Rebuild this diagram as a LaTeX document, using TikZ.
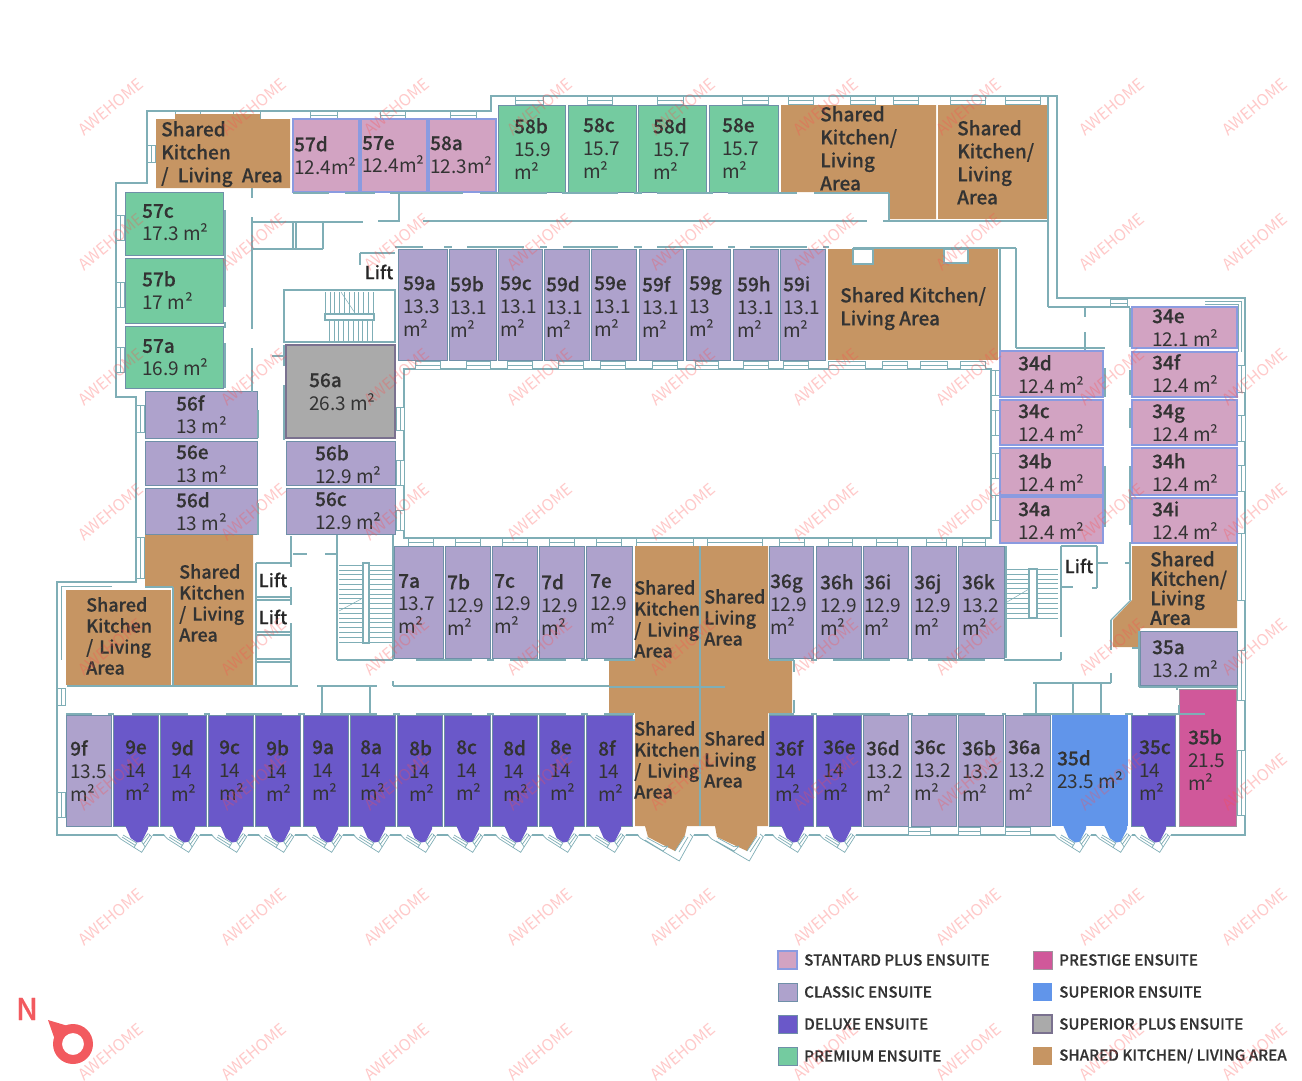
\documentclass[tikz,border=0pt]{standalone}
\usepackage{fontspec}
\setmainfont[BoldFont={Noto Sans CJK SC Medium},BoldFeatures={FakeBold=.35}]{Noto Sans CJK SC}
\usetikzlibrary{calc}
\definecolor{wallcol}{HTML}{7FAEB6}
\definecolor{edgecol}{HTML}{6F8FA8}
\definecolor{classiccol}{HTML}{AEA2CC}
\definecolor{deluxecol}{HTML}{6A58C9}
\definecolor{premiumcol}{HTML}{74CBA0}
\definecolor{sharedcol}{HTML}{C69563}
\definecolor{prestigecol}{HTML}{D0589A}
\definecolor{superiorcol}{HTML}{6195EA}
\definecolor{greycol}{HTML}{AAAAAA}
\definecolor{pinkcol}{HTML}{D2A3C2}
\definecolor{bluelinecol}{HTML}{8A9BE0}
\definecolor{txtcol}{HTML}{333333}
\definecolor{nred}{HTML}{F25A5F}
\tikzset{
  wall/.style={draw=wallcol, line width=1.1pt},
  thinwall/.style={draw=wallcol, line width=.7pt},
  classic/.style={fill=classiccol, draw=edgecol, line width=.5pt},
  deluxe/.style={fill=deluxecol, draw=edgecol, line width=.5pt},
  premium/.style={fill=premiumcol, draw=edgecol, line width=.5pt},
  shared/.style={fill=sharedcol},
  prestige/.style={fill=prestigecol, draw=premiumcol!50!prestigecol, line width=1pt},
  superior/.style={fill=superiorcol},
  superplus/.style={fill=greycol, draw=classiccol!70!black, line width=1.2pt},
  standplus/.style={fill=pinkcol, draw=bluelinecol, line width=1.4pt},
  lbl/.style={anchor=north west, inner sep=0pt, align=left, text=txtcol, font=\fontsize{19}{23}\selectfont},
  kitlbl/.style={lbl, font=\fontsize{18}{21}\selectfont\bfseries},
  biglbl/.style={lbl, font=\fontsize{19}{23}\selectfont\bfseries},
  liftlbl/.style={anchor=center, inner sep=0pt, text=black!85, font=\fontsize{18}{20}\selectfont\bfseries},
  keylbl/.style={anchor=west, inner sep=0pt, text=txtcol, font=\fontsize{15.2}{18}\selectfont\bfseries},
  wmark/.style={rotate=40, inner sep=0pt, text=red!70!white, opacity=.3, font=\fontsize{16}{18}\selectfont}
}
\newcommand{\bayroom}[2]{% x of the room, style of its fill
  \fill[white] (#1+4,834) -- (#1+7.7,839) -- (#1+28.7,852.3) -- (#1+38.7,836.7) -- (#1+40,834) -- cycle;
  \fill[#2, draw=none] (#1+12,825) -- (#1+17.7,838) -- (#1+24,842.5) -- (#1+28.7,841.7) -- (#1+35,829) -- (#1+35,825) -- cycle;
  \draw[thinwall] (#1+4,835.5) -- (#1+7.7,839) -- (#1+28.7,852.3) -- (#1+38.7,836.7) -- (#1+36,834);
  \draw[thinwall] (#1+10,835) -- (#1+23.7,843) -- (#1+21,847.7) (#1+9,837) -- (#1+22.4,845.4);
  \draw[thinwall] (#1+28.7,841.7) -- (#1+32,846.7) (#1+28.7,841.7) -- (#1+35.3,833.3) (#1+30.4,844.2) -- (#1+37,835);
}
\newcommand{\winh}[3]{\draw[thinwall, fill=white] (#1,#3) rectangle (#2,#3+8) (#1,#3+4) -- (#2,#3+4);}
\newcommand{\winv}[3]{\draw[thinwall, fill=white] (#3,#1) rectangle (#3+8,#2) (#3+4,#1) -- (#3+4,#2);}
\begin{document}
\begin{tikzpicture}[x=1pt,y=-1pt]
  \useasboundingbox (0,0) rectangle (1302,1080);

  % outer wall and courtyard
  \draw[wall] (147,111) -- (491,111) -- (491,96) -- (1057,96) -- (1057,298) -- (1245,298) -- (1245,835) -- (57,835) -- (57,582) -- (136,582) -- (136,397) -- (116,397) -- (116,183) -- (147,183) -- cycle;
  \draw[wall] (404,369) rectangle (991,538);

  % windows
  \foreach \xa/\xb in {175/200,233/260,310/337,380/405,450/476}{\winh{\xa}{\xb}{111}}
  \foreach \xa/\xb in {515/543,587/612,657/683,742/768,788/813,850/875,893/918,950/985,1005/1040}{\winh{\xa}{\xb}{96}}
  \foreach \xa/\xb in {415/440,466/490,507/532,558/583,600/625,652/677,695/718,743/768,783/808,828/865,882/907,920/947,960/985}{\winh{\xa}{\xb}{361}}
  \foreach \xa/\xb in {408/433,455/480,502/527,549/574,596/621,636/693,707/762,779/804,828/852,876/897,926/946,962/985}{\winh{\xa}{\xb}{538}}
  \foreach \xa/\xb in {908/930,958/980,1005/1030}{\winh{\xa}{\xb}{827}}
  \winh{1110}{1127}{299}
  \foreach \ya/\yb in {215/240,282/307,347/372}{\winv{\ya}{\yb}{116}}
  \winv{145}{162}{147}
  \foreach \ya/\yb in {405/432,537/578}{\winv{\ya}{\yb}{136}}
  \foreach \ya/\yb in {688/705,792/817}{\winv{\ya}{\yb}{57}}
  \foreach \ya/\yb in {365/392,415/441,465/491,533/600,650/700,750/815}{\winv{\ya}{\yb}{1237}}
  \foreach \ya/\yb in {370/395,410/435,453/478,495/520}{\winv{\ya}{\yb}{991}}
  \foreach \ya/\yb in {407/430,460/485,510/530}{\winv{\ya}{\yb}{396}}
  \draw[thinwall] (1205,301) -- (1241,301) -- (1241,352) (1205,304) -- (1238,304) -- (1238,352);
  \draw[thinwall] (112,586) -- (61,586) -- (61,660);

  % rooms with three lines of text
  \foreach \nm/\ar/\xa/\xb/\tx in {59a/13.3/398/447/403,59b/13.1/449/496/450,59c/13.1/498/542/500,59d/13.1/544/589/546,59e/13.1/591/636/594,59f/13.1/639/683/642,59g/13/686/730/689,59h/13.1/733/778/737,59i/13.1/780/825/783}{
    \fill[classic] (\xa,249) rectangle (\xb,360);
    \node[lbl] (t\nm) at (\tx,276) {\textbf{\nm}\\\ar\\m²};
  }
  \foreach \nm/\ar/\xa/\xb/\tx in {58b/15.9/498/565/514,58c/15.7/568/636/583,58d/15.7/638/706/653,58e/15.7/709/778/722}{
    \fill[premium] (\xa,105) rectangle (\xb,192);
    \node[lbl] (t\nm) at (\tx,118) {\textbf{\nm}\\\ar\\m²};
  }
  \foreach \nm/\ar/\xa/\xb/\tx in {7a/13.7/394/443/398,7b/12.9/445/490/447,7c/12.9/492/537/494,7d/12.9/539/584/541,7e/12.9/586/632/590,36g/12.9/769/813/770,36h/12.9/816/861/820,36i/12.9/863/908/864,36j/12.9/911/956/914,36k/13.2/958/1004/962}{
    \fill[classic] (\xa,546) rectangle (\xb,658);
    \node[lbl] (t\nm) at (\tx,574) {\textbf{\nm}\\\ar\\m²};
  }
  \foreach \nm/\xa/\xb/\tx in {9e/113/158/125,9d/160/206/171,9c/208/253/219,9b/255/300/266,9a/303/348/312,8a/350/395/360,8b/397/442/409,8c/444/490/456,8d/492/537/503,8e/539/584/550,8f/586/632/598,36f/769/813/775,36e/816/861/823}{
    \fill[deluxe] (\xa,715) rectangle (\xb,826);
    \bayroom{\xa}{deluxe}
    \node[lbl] (t\nm) at (\tx,740) {\textbf{\nm}\\14\\m²};
  }
  \foreach \nm/\ar/\xa/\xb/\tx in {9f/13.5/66/111/70,36d/13.2/863/908/866,36c/13.2/911/956/914,36b/13.2/958/1003/962,36a/13.2/1005/1050/1008}{
    \fill[classic] (\xa,715) rectangle (\xb,826);
    \node[lbl] (t\nm) at (\tx,740) {\textbf{\nm}\\\ar\\m²};
  }
  \fill[deluxe] (1131,715) rectangle (1175,826);
  \bayroom{1131}{deluxe}
  \node[lbl] (t35c) at (1139,740) {\textbf{35c}\\14\\m²};
  \fill[superior] (1052,715) rectangle (1128,826);
  \bayroom{1051}{superior}
  \bayroom{1092}{superior}
  \node[lbl] (t35d) at (1057,750) {\textbf{35d}\\23.5 m²};
  \fill[prestige] (1179,689) rectangle (1236,826);
  \node[lbl] (t35b) at (1188,729) {\textbf{35b}\\21.5\\m²};

  % rooms with two lines of text
  \foreach \nm/\ar/\xa/\ya/\xb/\yb/\tx/\ty in {57d/12.4m²/293/119/359/192/294/136,57e/12.4m²/361/119/427/192/362/136,58a/12.3m²/429/119/496/192/430/136,34d/12.4 m²/1000/351/1103/397/1018/355,34c/12.4 m²/1000/400/1103/445/1018/404,34b/12.4 m²/1000/448/1103/495/1018/453,34a/12.4 m²/1000/497/1103/543/1018/502,34e/12.1 m²/1132/307/1237/348/1152/309,34f/12.4 m²/1132/352/1237/397/1152/354,34g/12.4 m²/1132/400/1237/445/1152/404,34h/12.4 m²/1132/448/1237/495/1152/453,34i/12.4 m²/1132/498/1237/543/1152/501}{
    \fill[standplus] (\xa,\ya) rectangle (\xb,\yb);
    \node[lbl] (t\nm) at (\tx,\ty) {\textbf{\nm}\\\ar};
  }
  \foreach \nm/\ar/\xa/\ya/\xb/\yb/\tx/\ty in {57c/17.3 m²/125/192/223/255/142/204,57b/17 m²/125/258/223/323/142/271,57a/16.9 m²/125/326/223/388/142/339}{
    \fill[premium] (\xa,\ya) rectangle (\xb,\yb);
    \node[lbl] (t\nm) at (\tx,\ty) {\textbf{\nm}\\\ar};
  }
  \foreach \nm/\ar/\xa/\ya/\xb/\yb/\tx/\ty in {56f/13 m²/145/391/257/438/176/395,56e/13 m²/145/441/257/485/176/445,56d/13 m²/145/488/257/534/176/492,56b/12.9 m²/286/441/395/485/315/445,56c/12.9 m²/286/488/395/534/315/492,35a/13.2 m²/1140/631/1237/685/1152/640}{
    \fill[classic] (\xa,\ya) rectangle (\xb,\yb);
    \node[lbl] (t\nm) at (\tx,\ty) {\textbf{\nm}\\\ar};
  }
  \fill[superplus] (286,345) rectangle (395,438);
  \node[lbl] (t56a) at (309,373) {\textbf{56a}\\26.3 m²};

  % shared kitchens
  \fill[shared] (156,119) -- (175,119) -- (175,114) -- (260,114) -- (260,119) -- (290,119) -- (290,188) -- (156,188) -- cycle;
  \fill[shared] (781,105) -- (936,105) -- (936,219) -- (889,219) -- (889,192) -- (781,192) -- cycle;
  \fill[shared] (938,105) rectangle (1049,219);
  \fill[shared] (828,249) rectangle (998,360);
  \draw[wall, fill=white] (853,249) rectangle (873,264) (944,249) rectangle (968,263);
  \fill[shared] (1132,546) -- (1237,546) -- (1237,628) -- (1140,628) -- (1140,647) -- (1113,647) -- (1113,620) -- (1132,600) -- cycle;
  \fill[shared] (145,535) -- (253,535) -- (253,685) -- (174,685) -- (174,587) -- (145,587) -- cycle;
  \fill[shared] (66,590) rectangle (171,685);
  \fill[white] (638,834) -- (640.7,838.3) -- (679.3,861) -- (692.7,836.7) -- (694,834) -- cycle;
  \fill[white] (708,834) -- (711.7,839) -- (749.3,861) -- (763.3,836.7) -- (765,834) -- cycle;
  \fill[shared] (635,546) -- (768,546) -- (768,659) -- (792,659) -- (792,713) -- (768,713) -- (768,826) -- (757,826) -- (757,835) -- (747,851) -- (717,837) -- (715,826) -- (687,826) -- (685,835) -- (675,851) -- (648,837) -- (645,826) -- (635,826) -- (635,713) -- (609,713) -- (609,660) -- (635,660) -- cycle;
  \draw[thinwall] (638,835.7) -- (640.7,838.3) -- (679.3,861) -- (692.7,836.7) -- (690,834) (646.7,837.7) -- (663.3,846.7) (645,840) -- (663,851) -- (668,846) (663.3,846.7) -- (668,846) (685,836) -- (675,851) (688,837) -- (679,852);
  \draw[thinwall] (708.3,835.7) -- (711.7,839) -- (749.3,861) -- (763.3,836.7) -- (760,834) (718,838) -- (734,846.7) (716,841) -- (734,851) -- (739,846) (734,846.7) -- (739,846) (757,836) -- (747,851) (760,837) -- (750,852);
  \draw[wall] (609,687) -- (725,687) (700,546) -- (700,826);

  \node[biglbl] (sk1) at (161,121) {Shared\\Kitchen\\/\hspace{5pt} Living\hspace{5pt} Area};
  \node[biglbl] (sk2) at (820,106) {Shared\\Kitchen/\\Living\\Area};
  \node[biglbl] (sk3) at (957,120) {Shared\\Kitchen/\\Living\\Area};
  \node[biglbl] (sk4) at (840,287) {Shared Kitchen/\\Living Area};
  \node[biglbl, font=\fontsize{19}{19.5}\selectfont\bfseries] (sk5) at (1150,551) {Shared\\Kitchen/\\Living\\Area};
  \node[kitlbl] (sk6) at (179,564) {Shared\\Kitchen\\/\hspace{2pt} Living\\Area};
  \node[kitlbl] (sk7) at (86,597) {Shared\\Kitchen\\/\hspace{2pt} Living\\Area};
  \node[kitlbl] (sk8) at (634,580) {Shared\\Kitchen\\/\hspace{2pt} Living\\Area};
  \node[kitlbl] (sk9) at (704,589) {Shared\\Living\\Area};
  \node[kitlbl] (sk10) at (634,721) {Shared\\Kitchen\\/\hspace{2pt} Living\\Area};
  \node[kitlbl] (sk11) at (704,731) {Shared\\Living\\Area};

  % corridor walls
  \foreach \xa/\ya/\xb/\yb in {293/193/329/193,345/193/375/193,390/193/463/193,480/193/547/193,562/193/618/193,634/193/642/193,657/193/713/193,728/193/797/193,814/193/889/193,889/193/889/220,399/194/399/221,
    252/188/252/198,252/217/252/329,252/348/252/392,252/222/363/222,378/221/400/221,423/221/867/221,883/221/1048/221,
    395/247/423/247,444/247/452/247,467/247/524/247,540/247/547/247,563/247/618/247,634/247/642/247,657/247/713/247,728/247/735/247,750/247/807/247,823/247/829/247,853/248/1016/248,
    1000/248/1000/350,1016/248/1016/348,1016/348/1105/348,1048/96/1048/307,1048/307/1130/307,1085/307/1085/317,1085/332/1085/350,
    1105/368/1105/397,1105/466/1105/527,1130/308/1130/347,1130/370/1130/395,1130/408/1130/428,1130/466/1130/525,
    225/210/225/307,225/322/225/328,225/343/225/388,258/410/258/438,258/503/258/535,284/345/284/366,284/385/284/440,272/356/284/356,
    253/249/323/249,293/222/293/249,296/222/296/249,323/222/323/249,360/253/395/253,360/253/360/265,
    291/536/291/567,291/587/291/605,291/623/291/685,293/554/307/554,325/554/337/554,337/535/337/660,393/535/393/660,337/660/393/660,
    256/563/291/563,256/597/291/597,256/600/291/600,256/632/291/632,256/635/291/635,256/659/291/659,256/662/291/662,256/563/256/685,
    67/686/298/686,317/686/377/686,322/686/322/713,370/686/370/713,393/686/609/686,393/681/393/686,
    145/587/173/587,173/587/173/686,66/714/92/714,108/714/114/714,132/714/188/714,204/714/210/714,226/714/282/714,298/714/305/714,320/714/377/714,393/714/400/714,416/714/472/714,487/714/494/714,510/714/566/714,581/714/588/714,604/714/634/714,
    416/660/472/660,487/660/494/660,510/660/566/660,581/660/588/660,604/660/635/660,
    769/660/794/660,811/660/817/660,833/660/890/660,907/660/913/660,928/660/985/660,1004/660/1061/660,1061/652/1061/660,1061/546/1061/637,
    1061/546/1097/546,1097/546/1097/588,1062/587/1073/587,1092/588/1097/588,1097/563/1108/563,1006/546/1006/658,
    1111/620/1131/600,1111/620/1111/650,1130/542/1130/600,1125/563/1130/563,1033/683/1111/683,1111/673/1111/683,1036/683/1036/713,1073/683/1073/713,1101/683/1101/713,
    794/660/794/672,794/700/794/713,769/714/794/714,811/714/817/714,833/714/890/714,907/714/913/714,928/714/985/714,1002/714/1006/714,1023/714/1110/714,1125/714/1133/714,1148/714/1205/714,1179/705/1179/715,
    1139/687/1237/687,1139/631/1139/687,1132/648/1140/648,1177/687/1177/690}{
    \draw[wall] (\xa,\ya) -- (\xb,\yb);
  }

  % stairs
  \draw[wall] (284,290) rectangle (395,342);
  \foreach \i in {0,...,10}{\draw[wall, line width=.5pt] (325+\i*4.8,292) -- (325+\i*4.8,313);}
  \foreach \i in {0,...,9}{\draw[wall, line width=.5pt] (329+\i*4.8,320) -- (329+\i*4.8,342);}
  \draw[wall, fill=white] (325,314) rectangle (374,320);
  \draw[wall, line width=.5pt] (341,292) -- (355,313);
  \foreach \i in {0,...,16}{\draw[wall, line width=.5pt] (339,565+\i*4.8) -- (363,565+\i*4.8) (369,565+\i*4.8) -- (392,565+\i*4.8);}
  \draw[wall, fill=white] (363,563) rectangle (369,643);
  \draw[wall, line width=.5pt] (339,611) -- (363,598);
  \foreach \i in {0,...,10}{\draw[wall, line width=.5pt] (1007,569+\i*4.9) -- (1029,569+\i*4.9) (1037,569+\i*4.9) -- (1058,569+\i*4.9);}
  \draw[wall, fill=white] (1029,569) rectangle (1037,618);
  \draw[wall, line width=.5pt] (1007,602) -- (1029,589);

  \node[liftlbl] (lift1) at (379,272) {Lift};
  \node[liftlbl] (lift2) at (273,580) {Lift};
  \node[liftlbl] (lift3) at (273,617) {Lift};
  \node[liftlbl] (lift4) at (1079,566) {Lift};

  % key
  \foreach \st/\nm/\y in {standplus/STANTARD PLUS ENSUITE/960,classic/CLASSIC ENSUITE/992,deluxe/DELUXE ENSUITE/1024,premium/PREMIUM ENSUITE/1056}{
    \fill[\st] (778,\y-9) rectangle (797,\y+9);
    \node[keylbl] (key\y) at (804,\y) {\nm};
  }
  \foreach \st/\y in {prestige/960,superior/992,superplus/1024,shared/1056}{
    \fill[\st] (1033,\y-9) rectangle (1052,\y+9);
  }
  \node[keylbl] (keyb) at (1059,960) {PRESTIGE ENSUITE};
  \node[keylbl] (keyc) at (1059,992) {SUPERIOR ENSUITE};
  \node[keylbl] (keyd) at (1059,1024) {SUPERIOR PLUS ENSUITE};
  \node[keylbl] (keye) at (1059,1056) {SHARED KITCHEN/ LIVING AREA};

  % north point
  \node[anchor=center, inner sep=0pt, text=nred, font=\fontsize{30}{32}\selectfont\bfseries] (nlbl) at (27,1009) {N};
  \fill[nred] (48,1020) -- (68,1026) -- (55,1040) -- cycle;
  \fill[nred, even odd rule] (73,1044) circle (20) (73,1044) circle (11);

  % watermark
  \foreach \i in {0,...,8}{
    \foreach \j in {0,...,7}{
      \node[wmark] (w\i\j) at (111+143*\i,107+135*\j) {AWEHOME};
    }
  }
\end{tikzpicture}
\end{document}
